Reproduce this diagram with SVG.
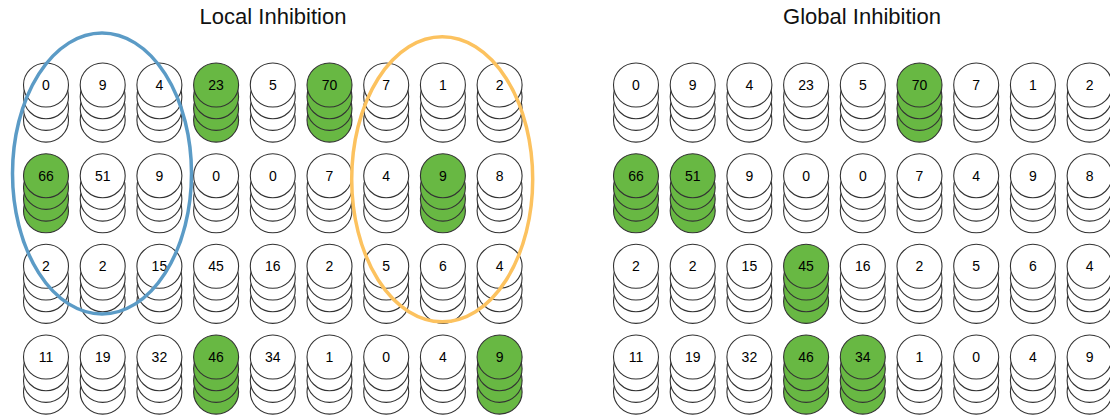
<svg xmlns="http://www.w3.org/2000/svg" xmlns:xlink="http://www.w3.org/1999/xlink" width="1110" height="419" viewBox="0 0 1110 419">
<style>
.c{stroke:#333333;stroke-width:1.1}
.w{fill:#ffffff}
.g{fill:#68b843}
.t{font-family:"Liberation Sans",Arial,sans-serif;font-size:14px;fill:#000000;text-anchor:middle}
.title{font-family:"Liberation Sans",Arial,sans-serif;font-size:22px;fill:#111111;text-anchor:middle}
.ring{fill:none;stroke-width:3.5}
</style>
<defs>
<g id="sw" class="c w">
<ellipse cx="0" cy="35.1" rx="22.5" ry="22"/>
<ellipse cx="0" cy="23.4" rx="22.5" ry="22"/>
<ellipse cx="0" cy="11.7" rx="22.5" ry="22"/>
<ellipse cx="0" cy="0" rx="22.5" ry="22"/>
</g>
<g id="sg" class="c g">
<ellipse cx="0" cy="35.1" rx="22.5" ry="22"/>
<ellipse cx="0" cy="23.4" rx="22.5" ry="22"/>
<ellipse cx="0" cy="11.7" rx="22.5" ry="22"/>
<ellipse cx="0" cy="0" rx="22.5" ry="22"/>
</g>
</defs>
<rect width="1110" height="419" fill="#ffffff"/>
<text class="title" x="273" y="24">Local Inhibition</text>
<text class="title" x="862" y="24">Global Inhibition</text>

<g id="local">
<!-- row 0 -->
<g id="L00"><use href="#sw" x="46" y="85"/><text class="t" x="46" y="90">0</text></g>
<g id="L01"><use href="#sw" x="102.7" y="85"/><text class="t" x="102.7" y="90">9</text></g>
<g id="L02"><use href="#sw" x="159.4" y="85"/><text class="t" x="159.4" y="90">4</text></g>
<g id="L03"><use href="#sg" x="216.1" y="85"/><text class="t" x="216.1" y="90">23</text></g>
<g id="L04"><use href="#sw" x="272.8" y="85"/><text class="t" x="272.8" y="90">5</text></g>
<g id="L05"><use href="#sg" x="329.5" y="85"/><text class="t" x="329.5" y="90">70</text></g>
<g id="L06"><use href="#sw" x="386.2" y="85"/><text class="t" x="386.2" y="90">7</text></g>
<g id="L07"><use href="#sw" x="442.9" y="85"/><text class="t" x="442.9" y="90">1</text></g>
<g id="L08"><use href="#sw" x="499.6" y="85"/><text class="t" x="499.6" y="90">2</text></g>
<!-- row 1 -->
<g id="L10"><use href="#sg" x="46" y="175.7"/><text class="t" x="46" y="180.7">66</text></g>
<g id="L11"><use href="#sw" x="102.7" y="175.7"/><text class="t" x="102.7" y="180.7">51</text></g>
<g id="L12"><use href="#sw" x="159.4" y="175.7"/><text class="t" x="159.4" y="180.7">9</text></g>
<g id="L13"><use href="#sw" x="216.1" y="175.7"/><text class="t" x="216.1" y="180.7">0</text></g>
<g id="L14"><use href="#sw" x="272.8" y="175.7"/><text class="t" x="272.8" y="180.7">0</text></g>
<g id="L15"><use href="#sw" x="329.5" y="175.7"/><text class="t" x="329.5" y="180.7">7</text></g>
<g id="L16"><use href="#sw" x="386.2" y="175.7"/><text class="t" x="386.2" y="180.7">4</text></g>
<g id="L17"><use href="#sg" x="442.9" y="175.7"/><text class="t" x="442.9" y="180.7">9</text></g>
<g id="L18"><use href="#sw" x="499.6" y="175.7"/><text class="t" x="499.6" y="180.7">8</text></g>
<!-- row 2 -->
<g id="L20"><use href="#sw" x="46" y="266.3"/><text class="t" x="46" y="271.3">2</text></g>
<g id="L21"><use href="#sw" x="102.7" y="266.3"/><text class="t" x="102.7" y="271.3">2</text></g>
<g id="L22"><use href="#sw" x="159.4" y="266.3"/><text class="t" x="159.4" y="271.3">15</text></g>
<g id="L23"><use href="#sw" x="216.1" y="266.3"/><text class="t" x="216.1" y="271.3">45</text></g>
<g id="L24"><use href="#sw" x="272.8" y="266.3"/><text class="t" x="272.8" y="271.3">16</text></g>
<g id="L25"><use href="#sw" x="329.5" y="266.3"/><text class="t" x="329.5" y="271.3">2</text></g>
<g id="L26"><use href="#sw" x="386.2" y="266.3"/><text class="t" x="386.2" y="271.3">5</text></g>
<g id="L27"><use href="#sw" x="442.9" y="266.3"/><text class="t" x="442.9" y="271.3">6</text></g>
<g id="L28"><use href="#sw" x="499.6" y="266.3"/><text class="t" x="499.6" y="271.3">4</text></g>
<!-- row 3 -->
<g id="L30"><use href="#sw" x="46" y="357"/><text class="t" x="46" y="362">11</text></g>
<g id="L31"><use href="#sw" x="102.7" y="357"/><text class="t" x="102.7" y="362">19</text></g>
<g id="L32"><use href="#sw" x="159.4" y="357"/><text class="t" x="159.4" y="362">32</text></g>
<g id="L33"><use href="#sg" x="216.1" y="357"/><text class="t" x="216.1" y="362">46</text></g>
<g id="L34"><use href="#sw" x="272.8" y="357"/><text class="t" x="272.8" y="362">34</text></g>
<g id="L35"><use href="#sw" x="329.5" y="357"/><text class="t" x="329.5" y="362">1</text></g>
<g id="L36"><use href="#sw" x="386.2" y="357"/><text class="t" x="386.2" y="362">0</text></g>
<g id="L37"><use href="#sw" x="442.9" y="357"/><text class="t" x="442.9" y="362">4</text></g>
<g id="L38"><use href="#sg" x="499.6" y="357"/><text class="t" x="499.6" y="362">9</text></g>
</g>

<g id="global">
<!-- row 0 -->
<g id="G00"><use href="#sw" x="636" y="85"/><text class="t" x="636" y="90">0</text></g>
<g id="G01"><use href="#sw" x="692.7" y="85"/><text class="t" x="692.7" y="90">9</text></g>
<g id="G02"><use href="#sw" x="749.4" y="85"/><text class="t" x="749.4" y="90">4</text></g>
<g id="G03"><use href="#sw" x="806.1" y="85"/><text class="t" x="806.1" y="90">23</text></g>
<g id="G04"><use href="#sw" x="862.8" y="85"/><text class="t" x="862.8" y="90">5</text></g>
<g id="G05"><use href="#sg" x="919.5" y="85"/><text class="t" x="919.5" y="90">70</text></g>
<g id="G06"><use href="#sw" x="976.2" y="85"/><text class="t" x="976.2" y="90">7</text></g>
<g id="G07"><use href="#sw" x="1032.9" y="85"/><text class="t" x="1032.9" y="90">1</text></g>
<g id="G08"><use href="#sw" x="1089.6" y="85"/><text class="t" x="1089.6" y="90">2</text></g>
<!-- row 1 -->
<g id="G10"><use href="#sg" x="636" y="175.7"/><text class="t" x="636" y="180.7">66</text></g>
<g id="G11"><use href="#sg" x="692.7" y="175.7"/><text class="t" x="692.7" y="180.7">51</text></g>
<g id="G12"><use href="#sw" x="749.4" y="175.7"/><text class="t" x="749.4" y="180.7">9</text></g>
<g id="G13"><use href="#sw" x="806.1" y="175.7"/><text class="t" x="806.1" y="180.7">0</text></g>
<g id="G14"><use href="#sw" x="862.8" y="175.7"/><text class="t" x="862.8" y="180.7">0</text></g>
<g id="G15"><use href="#sw" x="919.5" y="175.7"/><text class="t" x="919.5" y="180.7">7</text></g>
<g id="G16"><use href="#sw" x="976.2" y="175.7"/><text class="t" x="976.2" y="180.7">4</text></g>
<g id="G17"><use href="#sw" x="1032.9" y="175.7"/><text class="t" x="1032.9" y="180.7">9</text></g>
<g id="G18"><use href="#sw" x="1089.6" y="175.7"/><text class="t" x="1089.6" y="180.7">8</text></g>
<!-- row 2 -->
<g id="G20"><use href="#sw" x="636" y="266.3"/><text class="t" x="636" y="271.3">2</text></g>
<g id="G21"><use href="#sw" x="692.7" y="266.3"/><text class="t" x="692.7" y="271.3">2</text></g>
<g id="G22"><use href="#sw" x="749.4" y="266.3"/><text class="t" x="749.4" y="271.3">15</text></g>
<g id="G23"><use href="#sg" x="806.1" y="266.3"/><text class="t" x="806.1" y="271.3">45</text></g>
<g id="G24"><use href="#sw" x="862.8" y="266.3"/><text class="t" x="862.8" y="271.3">16</text></g>
<g id="G25"><use href="#sw" x="919.5" y="266.3"/><text class="t" x="919.5" y="271.3">2</text></g>
<g id="G26"><use href="#sw" x="976.2" y="266.3"/><text class="t" x="976.2" y="271.3">5</text></g>
<g id="G27"><use href="#sw" x="1032.9" y="266.3"/><text class="t" x="1032.9" y="271.3">6</text></g>
<g id="G28"><use href="#sw" x="1089.6" y="266.3"/><text class="t" x="1089.6" y="271.3">4</text></g>
<!-- row 3 -->
<g id="G30"><use href="#sw" x="636" y="357"/><text class="t" x="636" y="362">11</text></g>
<g id="G31"><use href="#sw" x="692.7" y="357"/><text class="t" x="692.7" y="362">19</text></g>
<g id="G32"><use href="#sw" x="749.4" y="357"/><text class="t" x="749.4" y="362">32</text></g>
<g id="G33"><use href="#sg" x="806.1" y="357"/><text class="t" x="806.1" y="362">46</text></g>
<g id="G34"><use href="#sg" x="862.8" y="357"/><text class="t" x="862.8" y="362">34</text></g>
<g id="G35"><use href="#sw" x="919.5" y="357"/><text class="t" x="919.5" y="362">1</text></g>
<g id="G36"><use href="#sw" x="976.2" y="357"/><text class="t" x="976.2" y="362">0</text></g>
<g id="G37"><use href="#sw" x="1032.9" y="357"/><text class="t" x="1032.9" y="362">4</text></g>
<g id="G38"><use href="#sw" x="1089.6" y="357"/><text class="t" x="1089.6" y="362">9</text></g>
</g>

<g id="neighbourhoods">
<ellipse id="blue-ring" class="ring" cx="102" cy="173.5" rx="89.5" ry="140.5" stroke="#5b9bc6"/>
<ellipse id="orange-ring" class="ring" cx="442.2" cy="179.2" rx="90.5" ry="142.5" stroke="#fcc25f"/>
</g>
</svg>
